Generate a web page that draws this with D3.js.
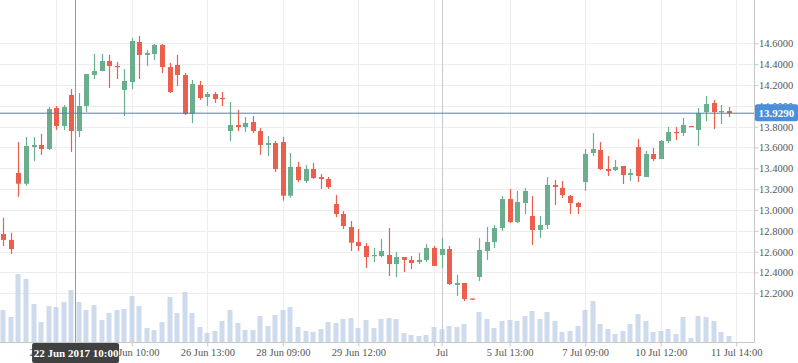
<!DOCTYPE html>
<html>
<head>
<meta charset="utf-8">
<script src="https://cdnjs.cloudflare.com/ajax/libs/d3/7.8.5/d3.min.js"></script>
<style>
  body { margin: 0; background: #fff; }
  svg { display: block; }
</style>
</head>
<body>
<div id="chartContainer"></div>
<script>
var width = 798,
    height = 363,
    plotRight = 754,
    plotBottom = 342;

// hourly candles, 21 Jun - 11 Jul 2017
var openPrices = [12.769, 12.712, 13.355, 13.252, 13.604, 13.624, 13.585, 13.979, 13.806, 14.104,
    13.758, 13.998, 14.296, 14.334, 14.430, 14.382, 14.152, 14.228, 14.612, 14.488,
    14.497, 14.584, 14.372, 14.392, 14.296, 13.924, 14.200, 14.084, 14.113, 14.075,
    13.758, 13.816, 13.796, 13.844, 13.758, 13.624, 13.643, 13.652, 13.137, 13.413,
    13.278, 13.393, 13.316, 13.297, 13.057, 12.961, 12.836, 12.692, 12.654, 12.558,
    12.558, 12.568, 12.481, 12.548, 12.520, 12.500, 12.520, 12.635, 12.568, 12.625,
    12.280, 12.299, 12.150, 12.356, 12.606, 12.692, 12.827, 13.105, 12.884, 13.067,
    12.942, 12.808, 12.856, 13.240, 13.211, 13.134, 13.067, 13.268, 13.547, 13.576,
    13.393, 13.384, 13.422, 13.336, 13.604, 13.316, 13.537, 13.489, 13.662, 13.748,
    13.739, 13.806, 13.768, 13.940, 14.027, 13.940, 13.950];
var highPrices = [12.926, 12.782, 13.652, 13.700, 13.700, 13.729, 13.988, 13.998, 14.008, 14.161,
    14.123, 14.305, 14.497, 14.497, 14.488, 14.420, 14.353, 14.651, 14.670, 14.536,
    14.593, 14.593, 14.411, 14.488, 14.315, 14.248, 14.238, 14.132, 14.132, 14.132,
    14.036, 13.960, 13.892, 13.902, 13.787, 13.710, 13.662, 13.700, 13.547, 13.461,
    13.432, 13.451, 13.345, 13.316, 13.144, 12.990, 12.894, 12.817, 12.683, 12.635,
    12.721, 12.827, 12.596, 12.548, 12.558, 12.587, 12.673, 12.654, 12.731, 12.654,
    12.376, 12.299, 12.150, 12.731, 12.836, 12.856, 13.134, 13.201, 13.182, 13.211,
    13.134, 12.942, 13.317, 13.288, 13.278, 13.144, 13.076, 13.585, 13.739, 13.652,
    13.518, 13.480, 13.422, 13.393, 13.681, 13.566, 13.595, 13.672, 13.796, 13.796,
    13.883, 13.806, 13.979, 14.094, 14.056, 14.008, 13.988];
var lowPrices = [12.654, 12.577, 13.127, 13.233, 13.470, 13.528, 13.576, 13.768, 13.768, 13.557,
    13.700, 13.940, 14.257, 14.334, 14.171, 14.257, 13.902, 14.161, 14.257, 14.382,
    14.440, 14.315, 14.123, 14.190, 13.912, 13.835, 14.056, 13.998, 14.027, 13.998,
    13.662, 13.758, 13.748, 13.739, 13.528, 13.518, 13.364, 13.089, 13.118, 13.268,
    13.259, 13.297, 13.201, 13.201, 12.932, 12.817, 12.606, 12.606, 12.443, 12.500,
    12.548, 12.366, 12.356, 12.404, 12.433, 12.481, 12.500, 12.462, 12.443, 12.280,
    12.174, 12.126, 12.140, 12.318, 12.520, 12.635, 12.798, 12.875, 12.875, 12.961,
    12.664, 12.731, 12.817, 13.048, 13.115, 12.961, 12.961, 13.182, 13.518, 13.384,
    13.326, 13.374, 13.249, 13.278, 13.268, 13.316, 13.470, 13.489, 13.643, 13.672,
    13.710, 13.796, 13.614, 13.854, 13.777, 13.825, 13.892];
var closePrices = [12.712, 12.625, 13.252, 13.614, 13.624, 13.585, 13.969, 13.806, 13.988, 13.758,
    13.998, 14.305, 14.334, 14.430, 14.382, 14.372, 14.238, 14.622, 14.488, 14.507,
    14.584, 14.372, 14.132, 14.296, 13.921, 14.209, 14.075, 14.113, 14.065, 14.065,
    13.816, 13.796, 13.835, 13.758, 13.624, 13.643, 13.393, 13.137, 13.413, 13.288,
    13.393, 13.307, 13.297, 13.220, 12.961, 12.846, 12.686, 12.654, 12.548, 12.568,
    12.606, 12.481, 12.548, 12.520, 12.491, 12.520, 12.635, 12.462, 12.625, 12.289,
    12.299, 12.145, 12.140, 12.616, 12.692, 12.827, 13.105, 12.884, 13.076, 13.182,
    12.808, 12.856, 13.240, 13.220, 13.144, 13.067, 13.028, 13.537, 13.585, 13.393,
    13.374, 13.413, 13.336, 13.355, 13.326, 13.537, 13.489, 13.662, 13.748, 13.739,
    13.816, 13.796, 13.931, 14.017, 13.940, 13.950, 13.929];
var volumes = [32, 25, 68, 63, 38, 20, 36, 35, 40, 52,
    40, 32, 37, 22, 29, 32, 33, 46, 36, 14,
    12, 20, 45, 29, 50, 29, 15, 9, 11, 21,
    32, 19, 12, 12, 26, 16, 27, 32, 35, 15,
    11, 10, 13, 20, 19, 23, 24, 14, 22, 14,
    23, 24, 23, 9, 7, 6, 7, 15, 13, 16,
    15, 18, 0, 30, 23, 14, 21, 22, 21, 26,
    31, 23, 30, 21, 10, 11, 16, 32, 41, 18,
    13, 8, 11, 18, 28, 21, 10, 11, 13, 8,
    25, 4, 26, 25, 21, 10, 6].map(function(v) { return v * 1000; });

var priceTicks = [12.2, 12.4, 12.6, 12.8, 13.0, 13.2, 13.4, 13.6, 13.8, 14.0, 14.2, 14.4, 14.6];
var timeTickIndex = [7, 17, 27, 37, 47, 57, 67, 77, 87, 97];
var timeTickLabels = ["21 Jun 15:00", "23 Jun 10:00", "26 Jun 13:00", "28 Jun 09:00", "29 Jun 12:00",
    "", "5 Jul 13:00", "7 Jul 09:00", "10 Jul 12:00", "11 Jul 14:00"];
var monthIndex = 58, monthLabel = "Jul";
var lastPrice = 13.929;
var crosshairIndex = 9.5, crosshairLabel = "22 Jun 2017 10:00";

var upColor = "#6aae8d",
    downColor = "#ec5f4c",
    font = "'Liberation Serif', 'Times New Roman', serif";

function draw() {
    "use strict";

    var data = openPrices.map(function(o, i) {
        return { i: i, open: o, high: highPrices[i], low: lowPrices[i], close: closePrices[i], volume: volumes[i] };
    });

    var svg = d3.select("#chartContainer").append("svg")
        .attr("width", width)
        .attr("height", height);

    var x = d3.scaleLinear().domain([0, data.length - 1]).range([3.3, 728.7]);
    var y = d3.scaleLinear().domain([12.2, 14.6]).range([293.3, 43.3]);
    var yVol = d3.scaleLinear().domain([0, d3.max(volumes)]).range([plotBottom, plotBottom - 68]);

    /* Gridlines */
    svg.append("g").selectAll("line")
        .data(priceTicks).enter().append("line")
        .attr("x1", 0).attr("x2", plotRight)
        .attr("y1", function(d) { return Math.round(y(d)) + 0.5; })
        .attr("y2", function(d) { return Math.round(y(d)) + 0.5; })
        .style("stroke", "#ededed");

    svg.append("g").selectAll("line")
        .data(timeTickIndex).enter().append("line")
        .attr("x1", function(d) { return Math.round(x(d)) + 0.5; })
        .attr("x2", function(d) { return Math.round(x(d)) + 0.5; })
        .attr("y1", 0).attr("y2", plotBottom)
        .style("stroke", "#ededed");

    svg.append("line")
        .attr("x1", Math.round(x(monthIndex)) + 0.5).attr("x2", Math.round(x(monthIndex)) + 0.5)
        .attr("y1", 0).attr("y2", plotBottom)
        .style("stroke", "#cacaca");

    /* Volume bars */
    svg.append("g").selectAll("rect")
        .data(data).enter().append("rect")
        .attr("x", function(d) { return Math.round(x(d.i)) - 2.5; })
        .attr("width", 5)
        .attr("y", function(d) { return yVol(d.volume); })
        .attr("height", function(d) { return plotBottom - yVol(d.volume); })
        .style("fill", "#b8cce6")
        .style("opacity", 0.7);

    /* Candles */
    var candles = svg.append("g").selectAll("g")
        .data(data).enter().append("g");

    candles.append("line")
        .attr("x1", function(d) { return Math.round(x(d.i)) + 0.5; })
        .attr("x2", function(d) { return Math.round(x(d.i)) + 0.5; })
        .attr("y1", function(d) { return y(d.high); })
        .attr("y2", function(d) { return y(d.low); })
        .style("stroke", function(d) { return d.close >= d.open ? upColor : downColor; })
        .style("stroke-width", 1.2);

    candles.append("rect")
        .attr("x", function(d) { return Math.round(x(d.i)) - 2; })
        .attr("width", 5)
        .attr("y", function(d) { return y(Math.max(d.open, d.close)); })
        .attr("height", function(d) { return Math.max(1.2, Math.abs(y(d.open) - y(d.close))); })
        .style("fill", function(d) { return d.close >= d.open ? upColor : downColor; });

    /* Crosshair */
    svg.append("line")
        .attr("x1", Math.round(x(crosshairIndex)) + 0.5).attr("x2", Math.round(x(crosshairIndex)) + 0.5)
        .attr("y1", 0).attr("y2", plotBottom)
        .style("stroke", "#999");

    /* Axes */
    var yAxis = d3.axisRight(y)
        .tickValues(priceTicks)
        .tickSize(4)
        .tickFormat(d3.format(".4f"));

    var gy = svg.append("g")
        .attr("transform", "translate(" + (plotRight + 0.5) + ",0)")
        .call(yAxis);
    gy.select(".domain").attr("d", "M0,0V" + plotBottom);

    var xAxis = d3.axisBottom(x)
        .tickValues(timeTickIndex.concat([monthIndex]))
        .tickSize(4)
        .tickFormat(function(d) { return d === monthIndex ? monthLabel : timeTickLabels[timeTickIndex.indexOf(d)]; });

    var gx = svg.append("g")
        .attr("transform", "translate(0," + (plotBottom + 0.5) + ")")
        .call(xAxis);
    gx.select(".domain").attr("d", "M0,0H" + (plotRight + 0.5));

    svg.selectAll(".domain, .tick line").style("stroke", "#c8c8c8");
    svg.selectAll(".tick text")
        .style("font-family", font)
        .style("font-size", "10.5px")
        .style("fill", "#555");
    gy.selectAll(".tick text").attr("x", 4.5);
    gx.selectAll(".tick text").attr("y", 6);

    /* Last price line and label */
    svg.append("line")
        .attr("x1", 0).attr("x2", plotRight)
        .attr("y1", y(lastPrice)).attr("y2", y(lastPrice))
        .style("stroke", "#4a7fc0");

    svg.append("rect")
        .attr("x", plotRight + 1).attr("y", y(lastPrice) - 9)
        .attr("width", width - plotRight - 1).attr("height", 17)
        .attr("rx", 2)
        .style("fill", "#4a8fd8");

    svg.append("text")
        .attr("x", plotRight + 4.5).attr("y", y(lastPrice) + 4)
        .style("font-family", font)
        .style("font-size", "11px")
        .style("font-weight", "bold")
        .style("fill", "#fff")
        .text(d3.format(".4f")(lastPrice));

    /* Crosshair time label */
    var cx = x(crosshairIndex);
    svg.append("rect")
        .attr("x", cx - 43).attr("y", plotBottom + 1)
        .attr("width", 87).attr("height", 20)
        .attr("rx", 2)
        .style("fill", "#404040");

    svg.append("text")
        .attr("x", cx + 1).attr("y", plotBottom + 15)
        .style("text-anchor", "middle")
        .style("font-family", font)
        .style("font-size", "11px")
        .style("font-weight", "bold")
        .style("fill", "#fff")
        .text(crosshairLabel);
}

draw();
</script>
</body>
</html>
